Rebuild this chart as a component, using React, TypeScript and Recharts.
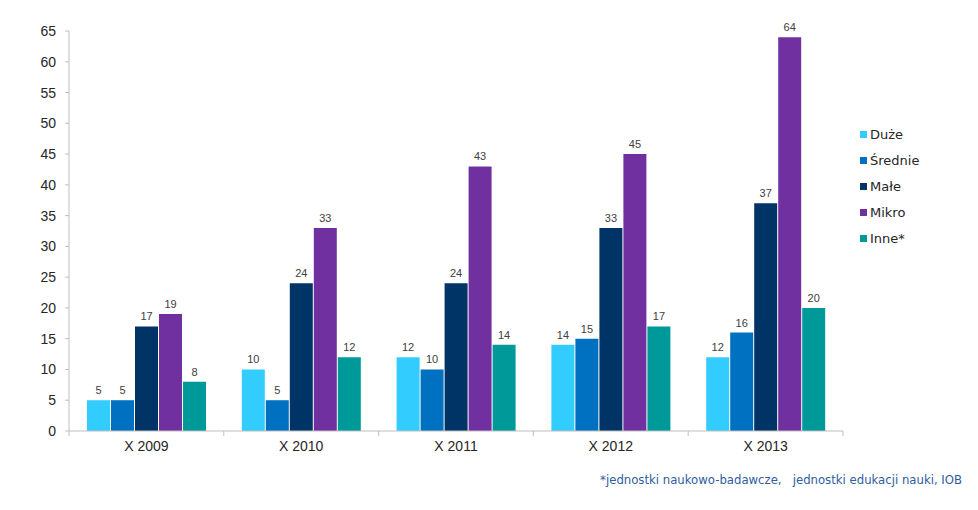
import React from 'react';
import { BarChart, Bar, XAxis, YAxis, LabelList } from 'recharts';

const categories = ['X 2009', 'X 2010', 'X 2011', 'X 2012', 'X 2013'];
const duze = [5, 10, 12, 14, 12];
const srednie = [5, 5, 10, 15, 16];
const male = [17, 24, 24, 33, 37];
const mikro = [19, 33, 43, 45, 64];
const inne = [8, 12, 14, 17, 20];
const yTicks = [0, 5, 10, 15, 20, 25, 30, 35, 40, 45, 50, 55, 60, 65];

const SERIES = [
  { key: 'duze', name: 'Duże', color: '#33CCFF' },
  { key: 'srednie', name: 'Średnie', color: '#0070C0' },
  { key: 'male', name: 'Małe', color: '#003366' },
  { key: 'mikro', name: 'Mikro', color: '#7030A0' },
  { key: 'inne', name: 'Inne*', color: '#009999' },
];

const data = categories.map((cat, i) => ({
  cat,
  duze: duze[i],
  srednie: srednie[i],
  male: male[i],
  mikro: mikro[i],
  inne: inne[i],
}));

const WIDTH = 978;
const HEIGHT = 510;
const X_AXIS_H = 30;
const MARGIN = { top: 31, right: 135, bottom: 79 - X_AXIS_H, left: 0 };
const Y_AXIS_W = 69;
const BAND = (WIDTH - MARGIN.right - Y_AXIS_W) / categories.length;
const AXIS_COLOR = '#BFBFBF';

const CategoryTick = (props: any) => {
  const { x, y, payload, index } = props;
  const half = BAND / 2;
  return (
    <g>
      <line x1={x + half} x2={x + half} y1={y} y2={y + 5} stroke={AXIS_COLOR} />
      {index === 0 && <line x1={x - half} x2={x - half} y1={y} y2={y + 5} stroke={AXIS_COLOR} />}
      <text
        x={x}
        y={y + 10}
        dy="0.71em"
        textAnchor="middle"
        fontSize={14}
        fill="#262626"
        fontFamily="'Liberation Sans', Arial, sans-serif"
      >
        {payload.value}
      </text>
    </g>
  );
};

// legend drawn as plain html so it doesn't shrink the plot
const LegendBox = () => (
  <div
    style={{
      position: 'absolute',
      left: 860,
      top: 121,
      fontFamily: "'DejaVu Sans', Verdana, sans-serif",
      fontSize: 13,
      color: '#262626',
    }}
  >
    {SERIES.map((s) => (
      <div key={s.key} style={{ display: 'flex', alignItems: 'center', height: 26 }}>
        <span style={{ display: 'inline-block', width: 7, height: 7, background: s.color, marginRight: 3 }} />
        <span>{s.name}</span>
      </div>
    ))}
  </div>
);

export default function App() {
  return (
    <div style={{ position: 'absolute', left: 0, top: 0, width: WIDTH, height: HEIGHT, background: '#fff' }}>
      <BarChart
        width={WIDTH}
        height={HEIGHT}
        data={data}
        margin={MARGIN}
        barCategoryGap={18}
        barGap={1}
      >
        <XAxis
          dataKey="cat"
          height={X_AXIS_H}
          axisLine={{ stroke: AXIS_COLOR }}
          tickLine={false}
          tickSize={0}
          tickMargin={0}
          tick={<CategoryTick />}
          interval={0}
        />
        <YAxis
          width={Y_AXIS_W}
          domain={[0, 65]}
          ticks={yTicks}
          interval={0}
          axisLine={{ stroke: AXIS_COLOR }}
          tickLine={{ stroke: AXIS_COLOR }}
          tickSize={4}
          tickMargin={9}
          tick={{ fontSize: 14, fill: '#262626', fontFamily: "'Liberation Sans', Arial, sans-serif" }}
        />
        {SERIES.map((s) => (
          <Bar key={s.key} dataKey={s.key} name={s.name} fill={s.color} isAnimationActive={false}>
            <LabelList
              dataKey={s.key}
              position="top"
              offset={6}
              fontSize={11}
              fill="#404040"
              fontFamily="'Liberation Sans', Arial, sans-serif"
            />
          </Bar>
        ))}
      </BarChart>
      <LegendBox />
      <div
        style={{
          position: 'absolute',
          right: 16,
          top: 473,
          whiteSpace: 'pre',
          fontFamily: "'DejaVu Sans', Verdana, sans-serif",
          fontSize: 11.7,
          color: '#2F5D9E',
        }}
      >
        {'*jednostki naukowo-badawcze,   jednostki edukacji nauki, IOB'}
      </div>
    </div>
  );
}
